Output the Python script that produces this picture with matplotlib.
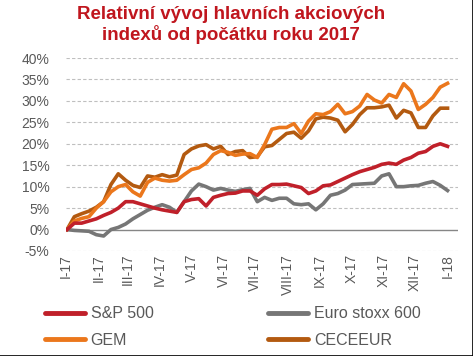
import matplotlib
matplotlib.use('Agg')
import matplotlib.dates as mdates
import numpy as np
import pandas as pd
from matplotlib import pyplot as plt
from matplotlib.lines import Line2D

# weekly observations, 2.1.2017 - 1.1.2018, change since start of year in %
dates = pd.date_range('2017-01-02', periods=53, freq='7D')

sp500 = [0.0, 1.5, 1.5, 2.0, 2.5, 3.3, 4.0, 5.0, 6.5, 6.5, 6.0, 5.5, 5.0, 4.6, 4.3, 4.0, 6.5, 7.0,
         7.2, 5.5, 7.5, 8.0, 8.4, 8.5, 9.0, 9.0, 8.0, 9.5, 10.5, 10.5, 10.6, 10.2, 9.8, 8.4, 9.0, 10.2,
         10.4, 11.2, 12.0, 12.8, 13.5, 14.0, 14.5, 15.2, 15.5, 15.2, 16.2, 16.8, 17.8, 18.2, 19.4, 20.0, 19.4]
stoxx600 = [0.0, -0.2, -0.3, -0.4, -1.2, -1.5, 0.0, 0.5, 1.3, 2.5, 3.5, 4.5, 5.2, 5.8, 5.2, 4.0, 6.5, 9.0,
            10.6, 10.0, 9.2, 9.6, 9.2, 8.9, 9.3, 9.6, 6.5, 7.5, 6.8, 7.3, 7.3, 6.0, 5.8, 6.0, 4.6, 6.0,
            8.0, 8.4, 9.2, 10.5, 10.6, 10.7, 10.8, 12.5, 13.0, 10.0, 10.0, 10.2, 10.3, 10.8, 11.2, 10.3, 9.1]
gem = [0.0, 2.0, 2.6, 3.0, 5.0, 6.5, 8.8, 10.0, 10.5, 8.8, 7.8, 11.0, 12.0, 11.5, 11.3, 11.5, 12.8, 14.0,
       14.4, 15.5, 17.5, 18.4, 18.0, 17.3, 17.6, 17.7, 16.8, 19.8, 23.4, 23.8, 23.8, 24.7, 22.4, 25.3, 27.0, 26.8,
       27.5, 29.2, 27.0, 27.5, 28.8, 31.5, 30.2, 29.5, 31.5, 30.8, 34.0, 32.3, 28.0, 29.2, 30.8, 33.2, 34.1]
ceceeur = [0.0, 3.0, 3.7, 4.3, 5.2, 6.5, 10.5, 13.0, 11.5, 10.3, 9.8, 12.5, 12.2, 12.8, 12.3, 12.7, 17.5, 18.8,
           19.5, 19.8, 18.8, 19.4, 17.5, 18.2, 18.4, 16.8, 17.0, 19.3, 19.6, 21.0, 22.4, 22.7, 21.3, 23.0, 25.8, 26.2,
           26.0, 25.5, 22.8, 24.5, 26.8, 28.4, 28.4, 28.6, 29.0, 26.0, 27.8, 27.2, 23.8, 23.8, 26.5, 28.3, 28.3]

month_labels = ['I-17', 'II-17', 'III-17', 'IV-17', 'V-17', 'VI-17', 'VII-17',
                'VIII-17', 'IX-17', 'X-17', 'XI-17', 'XII-17', 'I-18']
y_ticks = [-5, 0, 5, 10, 15, 20, 25, 30, 35, 40]

plt.rcParams['font.family'] = ['Liberation Sans', 'DejaVu Sans']
text_gray = '#595959'

fig = plt.figure(figsize=(4.73, 3.56), dpi=100)
ax = fig.add_axes([66 / 473, 105 / 356, (458 - 66) / 473, (251 - 58) / 356])

series = [
    ('S&P 500', sp500, '#C0202A'),
    ('Euro stoxx 600', stoxx600, '#767676'),
    ('GEM', gem, '#EB771C'),
    ('CECEEUR', ceceeur, '#B35A10'),
]
for name, vals, color in series[::-1]:
    ax.plot(dates, vals, color=color, lw=2.6, solid_joinstyle='round', zorder=3)

ax.set_ylim(-5, 40)
ax.set_xlim(pd.Timestamp('2017-01-01'), pd.Timestamp('2018-01-11'))
ax.set_yticks(y_ticks)
ax.set_yticklabels([f'{v}%' for v in y_ticks])
for v in y_ticks:
    if v == 0:
        ax.axhline(v, color='#868686', lw=1.0, zorder=2)
    else:
        ax.axhline(v, color='#BFBFBF', lw=0.8, ls=(0, (3, 2)), zorder=1)

ticks = pd.date_range('2017-01-01', periods=13, freq='MS')
ax.set_xticks(ticks)
ax.set_xticklabels(month_labels, rotation=90, va='top', ha='center')
ax.tick_params(axis='y', length=0, pad=12, labelsize=10, labelcolor=text_gray)
ax.tick_params(axis='x', length=0, pad=2, labelsize=10, labelcolor=text_gray)
for s in ax.spines.values():
    s.set_visible(False)

fig.text(231 / 473, 1 - 6 / 356, 'Relativní vývoj hlavních akciových\nindexů od počátku roku 2017',
         ha='center', va='top', fontsize=13.5, fontweight='bold', color='#C0161E', linespacing=1.15)

# legend in two columns below the axis, filled row by row
order = [0, 2, 1, 3]
handles = [Line2D([], [], color=series[i][2], lw=3.5, solid_capstyle='round') for i in order]
labels = [series[i][0] for i in order]
fig.legend(handles, labels, ncol=2, loc='center left', bbox_to_anchor=(45 / 473, 1 - 327 / 356),
           frameon=False, fontsize=11.5, handlelength=2.5, handletextpad=0.35, columnspacing=7.2,
           labelspacing=0.7, borderpad=0, borderaxespad=0, labelcolor=text_gray)

# frame lines on right and bottom edge
fig.add_artist(Line2D([0, 1], [0.5 / 356, 0.5 / 356], color='black', lw=1.2, transform=fig.transFigure))
fig.add_artist(Line2D([1 - 0.5 / 473, 1 - 0.5 / 473], [0, 1], color='black', lw=1.2, transform=fig.transFigure))

fig.savefig('out.png', dpi=100)
